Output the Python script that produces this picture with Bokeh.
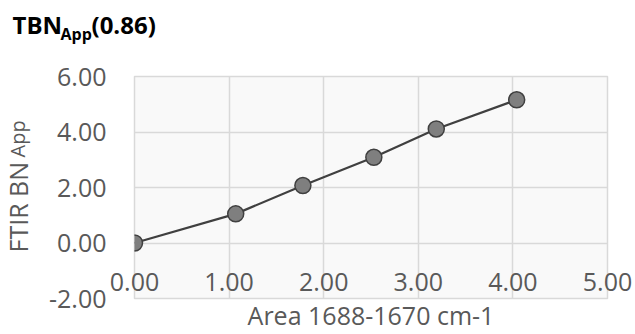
import math
from bokeh.plotting import figure
from bokeh.layouts import column, row
from bokeh.models import FixedTicker, NumeralTickFormatter, Label, Range1d
from bokeh.embed import file_html
from bokeh.resources import INLINE

# Data
area = [0.00, 1.07, 1.78, 2.53, 3.19, 4.04]
ftir_bn = [0.00, 1.05, 2.07, 3.09, 4.11, 5.16]

x_ticks = [0, 1, 2, 3, 4, 5]
y_ticks = [-2, 0, 2, 4, 6]

title_main = "TBN"
title_sub = "App"
title_tail = "(0.86)"
x_label = "Area 1688-1670 cm-1"
y_label_main = "FTIR BN"
y_label_sub = "App"

FONT = "Open Sans"
GREY_TXT = "#595959"
GRID = "#d9d9d9"

W, H = 635, 334
TOP_H = 60
LEFT_W = 40
BODY_H = H - TOP_H


def blank(width, height):
    f = figure(width=width, height=height, output_backend="svg", toolbar_location=None,
               x_axis_location=None, y_axis_location=None,
               x_range=Range1d(0, 1), y_range=Range1d(0, 1),
               min_border=0, min_border_left=0, min_border_right=0,
               min_border_top=0, min_border_bottom=0)
    f.outline_line_color = None
    f.grid.visible = False
    f.background_fill_color = "white"
    f.border_fill_color = "white"
    return f


# ---- title strip ----
t = blank(W, TOP_H)
t.add_layout(Label(x=12, y=36, x_units="screen", y_units="screen", text=title_main,
                   text_font=FONT, text_font_size="24px", text_font_style="bold",
                   text_color="black", text_baseline="alphabetic"))
t.add_layout(Label(x=60, y=27, x_units="screen", y_units="screen", text=title_sub,
                   text_font=FONT, text_font_size="16px", text_font_style="bold",
                   text_color="black", text_baseline="alphabetic"))
t.add_layout(Label(x=91, y=36, x_units="screen", y_units="screen", text=title_tail,
                   text_font=FONT, text_font_size="24px", text_font_style="bold",
                   text_color="black", text_baseline="alphabetic"))

# ---- y-axis label strip ----
yl = blank(LEFT_W, BODY_H)
yl.add_layout(Label(x=17, y=46, x_units="screen", y_units="screen",
                    text=y_label_main, angle=math.pi / 2, text_font=FONT,
                    text_font_size="25px", text_color=GREY_TXT,
                    text_baseline="alphabetic", text_align="left"))
yl.add_layout(Label(x=17, y=141, x_units="screen", y_units="screen",
                    text=y_label_sub, angle=math.pi / 2, text_font=FONT,
                    text_font_size="20px", text_color=GREY_TXT,
                    text_baseline="alphabetic", text_align="left"))

# ---- main chart ----
p = figure(width=W - LEFT_W, height=BODY_H, output_backend="svg", toolbar_location=None,
           x_range=Range1d(0, 5), y_range=Range1d(-2, 6),
           min_border_left=134 - LEFT_W, min_border_right=28,
           min_border_top=76 - TOP_H, min_border_bottom=36)

p.background_fill_color = "#f9f9f9"
p.border_fill_color = "white"
p.outline_line_color = GRID
p.outline_line_width = 1.5

p.xgrid.ticker = FixedTicker(ticks=x_ticks)
p.ygrid.ticker = FixedTicker(ticks=y_ticks)
p.grid.grid_line_color = GRID
p.grid.grid_line_width = 1.5

xa = p.xaxis[0]
xa.ticker = FixedTicker(ticks=x_ticks)
xa.formatter = NumeralTickFormatter(format="0.00")
xa.axis_line_color = None
xa.major_tick_line_color = None
xa.minor_tick_line_color = None
xa.major_tick_out = 0
xa.major_tick_in = 0
xa.major_label_standoff = -26
xa.major_label_text_font = FONT
xa.major_label_text_font_size = "25px"
xa.major_label_text_color = GREY_TXT
xa.axis_label = x_label
xa.axis_label_text_font = FONT
xa.axis_label_text_font_size = "25px"
xa.axis_label_text_font_style = "normal"
xa.axis_label_text_color = GREY_TXT
xa.axis_label_standoff = 4

ya = p.yaxis[0]
ya.ticker = FixedTicker(ticks=y_ticks)
ya.formatter = NumeralTickFormatter(format="0.00")
ya.axis_line_color = None
ya.major_tick_line_color = None
ya.minor_tick_line_color = None
ya.major_tick_out = 0
ya.major_tick_in = 0
ya.major_label_standoff = 28
ya.major_label_text_font = FONT
ya.major_label_text_font_size = "25px"
ya.major_label_text_color = GREY_TXT

p.line(area, ftir_bn, line_color="#404040", line_width=2.2)
p.scatter(area, ftir_bn, size=16, fill_color="#7f7f7f", line_color="#404040", line_width=1.5)

layout = column(t, row(yl, p, spacing=0), spacing=0)

open("out.html", "w").write(file_html(layout, INLINE))
